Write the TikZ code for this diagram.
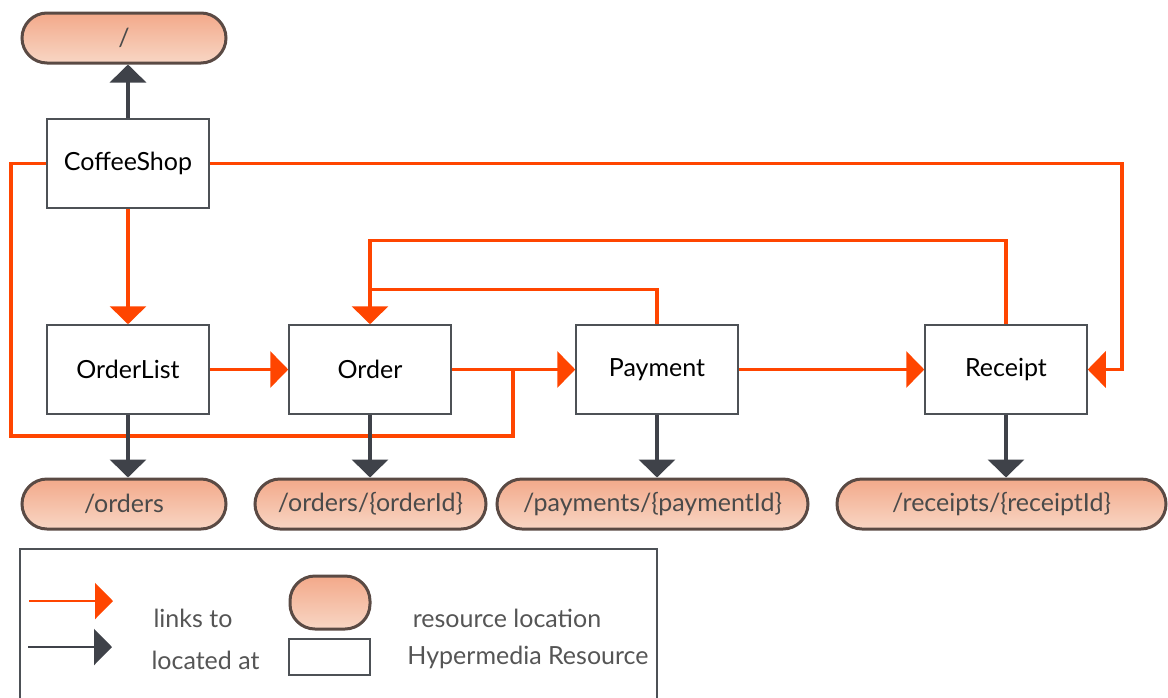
\documentclass[tikz,border=0pt]{standalone}
\usepackage{fontspec}
\setmainfont{Lato}
\usetikzlibrary{arrows.meta}

\definecolor{linkorange}{HTML}{FF4500}
\definecolor{locdark}{HTML}{3F4249}
\definecolor{boxgray}{HTML}{4D5156}
\definecolor{pillborder}{HTML}{5A4A44}
\definecolor{pilltop}{HTML}{F3A98A}
\definecolor{pillbot}{HTML}{F8D6C4}
\definecolor{pilltext}{HTML}{4A4A4A}
\definecolor{legtext}{HTML}{555555}

\tikzset{
  res/.style={rectangle, draw=boxgray, line width=1.5pt, fill=white,
    minimum width=162pt, minimum height=89pt, inner sep=0pt,
    font=\fontsize{25}{30}\selectfont},
  loc/.style={rectangle, rounded corners=25pt, draw=pillborder, line width=3pt,
    top color=pilltop, bottom color=pillbot, minimum height=50pt, inner sep=0pt,
    text=pilltext, font=\fontsize{25}{30}\selectfont},
  linksto/.style={draw=linkorange, line width=3.5pt,
    -{Triangle[width=36pt,length=18pt]}},
  linkline/.style={draw=linkorange, line width=3.5pt},
  locatedat/.style={draw=locdark, line width=3.5pt,
    -{Triangle[width=36pt,length=18pt]}},
  legendtext/.style={text=legtext, font=\fontsize{25}{30}\selectfont, inner sep=0pt},
}

\begin{document}
\begin{tikzpicture}[x=1pt, y=-1pt]
\useasboundingbox (0,0) rectangle (1168,697);
\clip (0,0) rectangle (1168,697);

% hypermedia resources
\node[res] (cs)  at (128,163.5)  {CoffeeShop};
\node[res] (ol)  at (128,369.5)  {OrderList};
\node[res] (ord) at (370,369.5)  {Order};
\node[res] (pay) at (657,369.5)  {Payment};
\node[res] (rec) at (1006,369.5) {Receipt};

% resource locations
\node[loc, minimum width=204pt] (root)  at (124,38)    {/};
\node[loc, minimum width=204pt] (lorders) at (124,504) {/orders};
\node[loc, minimum width=231pt] (lorder)  at (370.5,504) {/orders/\{orderId\}};
\node[loc, minimum width=311pt] (lpay)    at (652.5,504) {/payments/\{paymentId\}};
\node[loc, minimum width=329pt] (lrec)    at (1001.5,504) {/receipts/\{receiptId\}};

% bends of the link routes
\coordinate (leftbottom) at (11,436);
\coordinate (merge) at (513,369.5);
\coordinate (rightside) at (1122,369.5);
\coordinate (paytop) at (370,289.5);
\coordinate (rectop) at (370,240.5);

% links to
\draw[linksto] (cs.south) -- (ol.north);
\draw[linksto] (ol.east) -- (ord.west);
\draw[linksto] (ord.east) -- (pay.west);
\draw[linksto] (pay.east) -- (rec.west);
\draw[linkline] (cs.west) -| (leftbottom) -| (merge);
\draw[linksto] (cs.east) -| (rightside) -- (rec.east);
\draw[linkline] (pay.north) |- (paytop);
\draw[linksto] (rec.north) |- (rectop) -- (ord.north);

% located at
\draw[locatedat] (cs.north) -- (cs.north |- root.south);
\draw[locatedat] (ol.south) -- (ol.south |- lorders.north);
\draw[locatedat] (ord.south) -- (ord.south |- lorder.north);
\draw[locatedat] (pay.south) -- (pay.south |- lpay.north);
\draw[locatedat] (rec.south) -- (rec.south |- lrec.north);

% legend
\draw[boxgray, line width=1.5pt] (20,720) -- (20,549) -- (657,549) -- (657,720);
\coordinate (la1) at (29,601);
\coordinate (la2) at (113,601);
\coordinate (lb1) at (28,647);
\coordinate (lb2) at (112,647);
\draw[draw=linkorange, line width=2.5pt, -{Triangle[width=36pt,length=18pt]}] (la1) -- (la2);
\draw[draw=locdark, line width=2.5pt, -{Triangle[width=36pt,length=18pt]}] (lb1) -- (lb2);
\node[legendtext] (tlinks) at (193,618) {links to};
\node[legendtext] (tlocated) at (205.5,660) {located at};
\node[loc, minimum width=80pt, minimum height=53pt] (legpill) at (330,602.5) {};
\node[res, minimum width=81pt, minimum height=36pt] (legbox) at (329.5,657) {};
\node[legendtext] (tresloc) at (507,618) {resource location};
\node[legendtext] (thyper) at (528,657) {Hypermedia Resource};
\end{tikzpicture}
\end{document}
